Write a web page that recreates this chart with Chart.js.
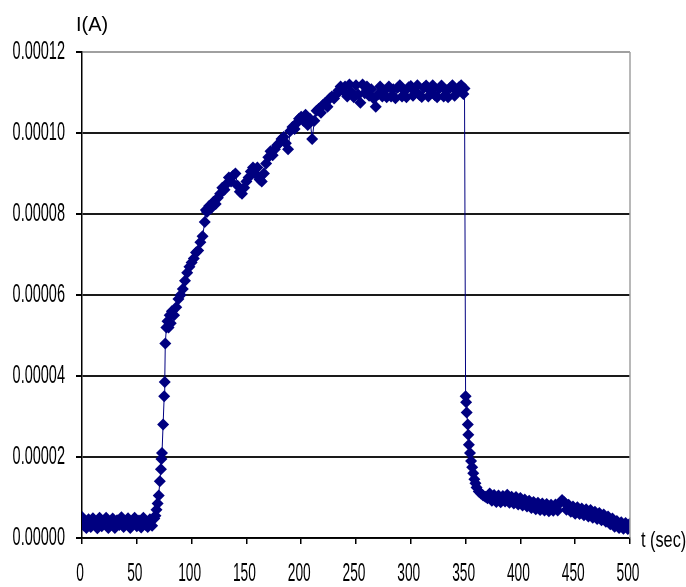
<!DOCTYPE html>
<html>
<head>
<meta charset="utf-8">
<script src="https://cdn.jsdelivr.net/npm/chart.js@4"></script>
<style>
  html, body { margin: 0; padding: 0; background: #fff; }
  #wrap { width: 686px; height: 587px; position: relative; }
</style>
</head>
<body>
<div id="wrap"><canvas id="chart"></canvas></div>
<script>
// current in microamps, time in seconds
const baselineTime = [0,2,4,6,8,10,12,14,16,18,20,22,24,26,28,30,32,34,36,38,40,42,44,46,48,50,52,54,56,58,60,62,64,66];
const baselineCurrent = [5.2,3.0,2.5,4.6,2.7,4.9,3.5,2.4,5.0,2.9,4.1,5.0,2.5,3.9,4.8,2.5,4.4,3.2,5.1,2.7,4.0,4.9,2.5,3.8,5.0,2.9,4.3,2.6,5.0,3.3,2.7,4.6,3.0,4.8];

const riseTime = [67,68,69,70,71,72,72.5,73,74,75,75.5,76,77,78,79,80,81,82,84,86,88,90,92,94,96,98,
  100,102,104,106,108,110,112,113,114,116,118,120,122,124,126,128,130,132,134,136,138,140,142,144,146,148,
  150,152,154,156,158,160,162,164,166,168,170,172,174,176,178,180,182,184,186,188,190,192,194,196,198,
  200,202,204,206,208,210,212,214,216,218,220,222,224,226,228,230,232,234,236,238];
const riseCurrent = [5.5,7.0,8.5,10.5,14,17,19.5,21,28,35,38.5,48,52,53.5,52,55,53,56,55,57,59,60,61.5,63.5,65.5,67,
  68,69,70.5,71,73,74.5,78,81,80.5,82,81.5,83,82.5,84,85,86.5,86,87.5,89,88,89.5,90,87,85.5,85,86.5,
  88,89,90.5,91.5,90,91.5,88.5,88,90,92.5,94,95.5,94.5,96,97,97.5,98.5,99,97.5,96,100.5,101.5,101,102.5,103.5,
  104,103,104.5,102,103.5,98.5,103,105.5,106,105,107,107.5,106.5,108.5,109,108.5,109.5,110.5,111.5,110.5];

const plateauTime = [240,242,244,246,248,250,252,254,256,258,260,262,264,266,268,270,272,274,276,278,
  280,282,284,286,288,290,292,294,296,298,300,302,304,306,308,310,312,314,316,318,
  320,322,324,326,328,330,332,334,336,338,340,342,344,346,348,349];
const plateauCurrent = [111.5,109,112,110,108.8,111.8,109.5,107.5,112,109.8,111.5,109.2,110.8,108.5,106.5,109.5,111.5,109,110.5,108.8,
  111.5,109,110.8,108.6,111.2,111.8,109,110.5,108.8,111.3,111.6,109.2,110.2,111.8,109.4,108.9,111.2,111.7,109,110.4,
  111.8,109.3,108.8,111,111.7,109,110.6,108.8,111.2,111.8,109.2,110.4,111.3,111.8,109.6,111];

const decayTime = [350,350.5,351,352,352.5,353,354,355,356,357,358,359,360,362,364,366,368,370,
  372,374,376,378,380,382,384,386,388,390,392,394,396,398,400,402,404,406,408,410,412,414,416,418,
  420,422,424,426,428,430,432,434,436,438,440,442,444,446,448,450,452,454,456,458,460,462,464,466,468,
  470,472,474,476,478,480,482,484,486,488,490,492,494,496,498,500];
const decayCurrent = [35,33.5,31,28,25.5,23,21,19,17.5,16,14.5,13.5,12.5,11.5,11,10.5,10.2,9.8,
  11.0,9.2,10.6,8.9,10.5,8.8,10.4,9.0,10.7,8.7,10.2,8.5,10.1,8.3,9.9,8.0,9.5,7.8,9.2,7.4,8.9,7.1,8.7,6.9,
  8.5,6.8,8.4,6.6,8.2,6.7,8.3,6.8,8.6,9.4,8.8,7.0,8.2,6.5,7.8,6.0,7.6,5.9,7.3,5.6,7.1,5.3,6.9,5.0,6.5,
  4.7,6.2,4.4,5.8,4.0,5.3,3.4,4.8,2.8,4.2,2.5,3.9,2.3,3.7,2.2,3.6];

const yTicks = [0, 0.00002, 0.00004, 0.00006, 0.00008, 0.00010, 0.00012];
const xTicks = [0, 50, 100, 150, 200, 250, 300, 350, 400, 450, 500];

const allTime = baselineTime.concat(riseTime, plateauTime, decayTime);
const allCurrent = baselineCurrent.concat(riseCurrent, plateauCurrent, decayCurrent);
const points = allTime.map((t, i) => ({ x: t, y: allCurrent[i] * 1e-6 }));

const FONT = "'Liberation Sans', Arial, sans-serif";
const NAVY = "#000080";

// draws text squeezed horizontally, like the narrow spreadsheet font
function narrowText(ctx, text, x, y, size, sx, align) {
  ctx.save();
  ctx.font = size + "px " + FONT;
  ctx.textBaseline = "middle";
  const w = ctx.measureText(text).width * sx;
  let left = x;
  if (align === "right") left = x - w;
  else if (align === "center") left = x - w / 2;
  ctx.translate(left, y);
  ctx.scale(sx, 1);
  ctx.textAlign = "left";
  ctx.fillText(text, 0, 0);
  ctx.restore();
}

const frameAndLabels = {
  id: "frameAndLabels",
  afterDraw(chart) {
    const { ctx, chartArea } = chart;
    const xs = chart.scales.x, ys = chart.scales.y;
    ctx.save();
    ctx.strokeStyle = "#a0a0a0";
    ctx.lineWidth = 1.5;
    ctx.beginPath();
    ctx.moveTo(chartArea.right, chartArea.top);
    ctx.lineTo(chartArea.right, chartArea.bottom);
    ctx.stroke();
    ctx.fillStyle = "#000";
    yTicks.forEach((v) => narrowText(ctx, v.toFixed(5), 65, ys.getPixelForValue(v), 25, 0.58, "right"));
    xTicks.forEach((v) => narrowText(ctx, String(v), xs.getPixelForValue(v) - 2, 574, 25, 0.55, "center"));
    narrowText(ctx, "I(A)", 76, 25, 21, 0.95, "left");
    narrowText(ctx, "t (sec)", 641, 541, 22, 0.74, "left");
    ctx.restore();
  },
};

new Chart(document.getElementById("chart"), {
  type: "line",
  data: {
    datasets: [
      {
        data: points,
        borderColor: NAVY,
        borderWidth: 1,
        backgroundColor: NAVY,
        pointStyle: "rectRot",
        pointRadius: 6,
        pointBorderWidth: 0,
        pointBackgroundColor: NAVY,
        tension: 0,
      },
    ],
  },
  options: {
    responsive: true,
    maintainAspectRatio: false,
    animation: false,
    events: [],
    layout: { padding: { left: 0, top: 52, right: 56, bottom: 0 } },
    plugins: { legend: { display: false }, tooltip: { enabled: false } },
    scales: {
      x: {
        type: "linear",
        min: 0,
        max: 500,
        afterBuildTicks: (s) => { s.ticks = xTicks.map((v) => ({ value: v })); },
        afterFit: (s) => { s.height = 49; },
        border: { color: "#000", width: 1.5 },
        grid: { drawOnChartArea: false, drawTicks: true, tickLength: 6, tickColor: "#000", lineWidth: 1.5 },
        ticks: { display: false },
      },
      y: {
        min: 0,
        max: 0.00012,
        afterBuildTicks: (s) => { s.ticks = yTicks.map((v) => ({ value: v })); },
        afterFit: (s) => { s.width = 82; },
        border: { color: "#000", width: 1.5 },
        grid: {
          color: (c) => (c.tick && c.tick.value >= 0.00012 ? "#a0a0a0" : "#1a1a1a"),
          lineWidth: 2,
          drawTicks: true,
          tickLength: 6,
          tickColor: "#000",
        },
        ticks: { display: false },
      },
    },
  },
  plugins: [frameAndLabels],
});
</script>
</body>
</html>
